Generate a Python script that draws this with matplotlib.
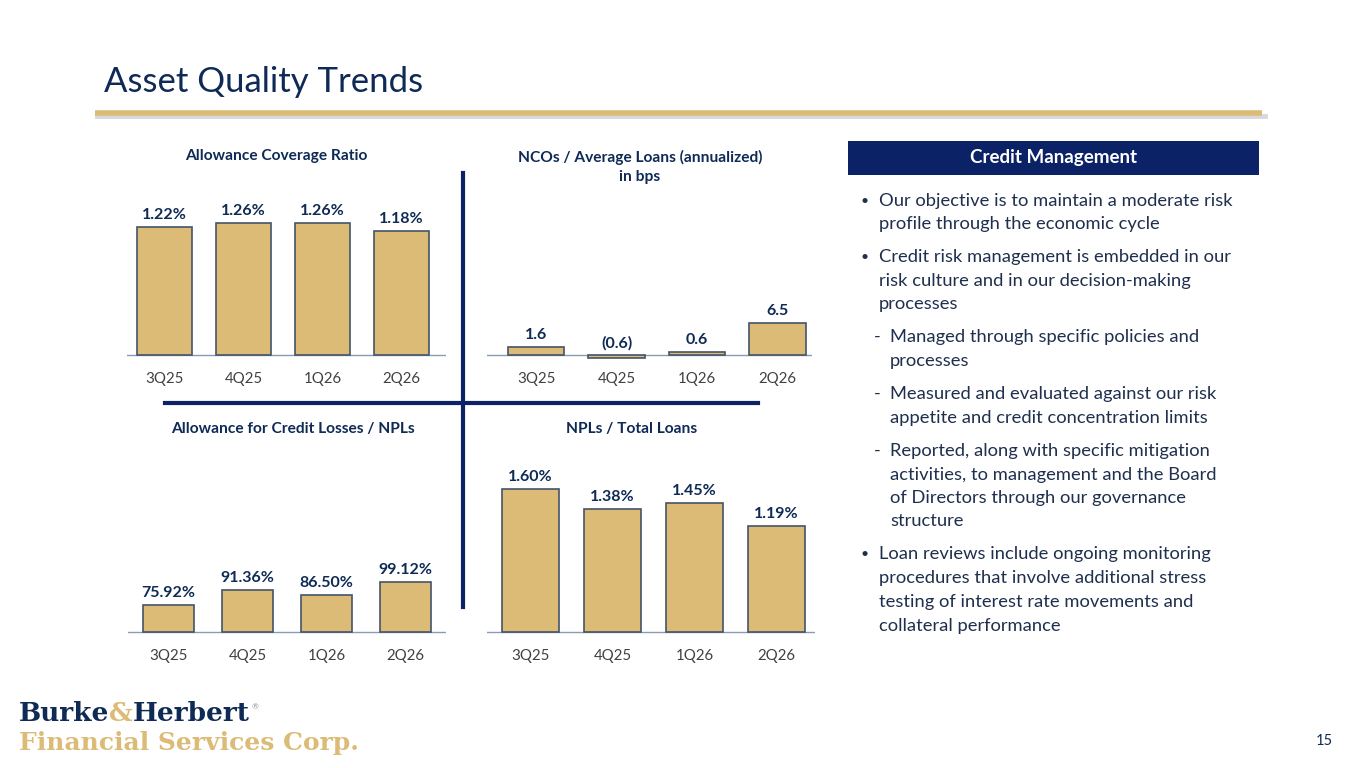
import matplotlib
matplotlib.use("Agg")
import matplotlib.pyplot as plt
from matplotlib.lines import Line2D
from matplotlib.patches import Rectangle

W, H = 1365, 768

quarters = ["3Q25", "4Q25", "1Q26", "2Q26"]
coverage_ratio = [1.22, 1.26, 1.26, 1.18]
nco_bps = [1.6, -0.6, 0.6, 6.5]
acl_to_npl = [75.92, 91.36, 86.50, 99.12]
npl_to_loans = [1.60, 1.38, 1.45, 1.19]

cov_labels = ["1.22%", "1.26%", "1.26%", "1.18%"]
nco_labels = ["1.6", "(0.6)", "0.6", "6.5"]
acl_labels = ["75.92%", "91.36%", "86.50%", "99.12%"]
npl_labels = ["1.60%", "1.38%", "1.45%", "1.19%"]

NAVY = "#0e2a55"
BOX_NAVY = "#0b2266"
GOLD = "#dcbb76"
EDGE = "#44546a"
TEXT = "#1f2f4d"
TICK = "#404040"
FONT = "Lato"

plt.rcParams["font.family"] = [FONT, "DejaVu Sans"]

fig = plt.figure(figsize=(W / 100, H / 100), dpi=100)
fig.patch.set_facecolor("white")


def fx(x):
    return x / W


def fy(y):
    return 1 - y / H


def bar_panel(left, right, top, base, bottom, c0, step, scale, ymin, values,
              labels, width, title, title_x, title_y):
    # axes placed in pixel terms so the panels line up like the slide
    ax = fig.add_axes([fx(left), fy(bottom), (right - left) / W, (bottom - top) / H])
    ax.set_xlim(-(c0 - left) / step, (right - c0) / step)
    ax.set_ylim(ymin - (bottom - base) / scale, ymin + (base - top) / scale)
    xs = range(len(values))
    bottoms = [ymin if v >= 0 else 0 for v in values]
    heights = [v - ymin if v >= 0 else v for v in values]
    ax.bar(xs, heights, bottom=bottoms, width=width, color=GOLD,
           edgecolor=EDGE, linewidth=1.2, zorder=2)
    ax.axhline(ymin, color="#8a9ab3", linewidth=1.0, zorder=1)
    for i, (v, lab) in enumerate(zip(values, labels)):
        ax.annotate(lab, (i, max(v, ymin)),
                    xytext=(0, 3.5), textcoords="offset points",
                    ha="center", va="bottom", fontsize=11.5,
                    fontweight="bold", color=NAVY)
    ax.set_xticks(list(xs))
    ax.set_xticklabels(quarters)
    ax.tick_params(axis="x", length=0, labelsize=10.8, colors=TICK, pad=5)
    ax.set_yticks([])
    for s in ax.spines.values():
        s.set_visible(False)
    ax.patch.set_alpha(0)
    fig.text(fx(title_x), fy(title_y), title, ha="center",
             va="center", fontsize=11.2, fontweight="bold", color=NAVY,
             linespacing=1.4)
    return ax


bar_panel(127, 446, 190, 355, 365, 164.5, 79, 105, 0, coverage_ratio,
          cov_labels, 0.70, "Allowance Coverage Ratio", 276, 156)
bar_panel(487, 812, 190, 355, 365, 536, 80.5, 5, 0, nco_bps,
          nco_labels, 0.70, "NCOs / Average Loans (annualized)\nin bps", 640, 167)
bar_panel(128, 446, 460, 632, 642, 168.5, 79, 1.0, 49, acl_to_npl,
          acl_labels, 0.65, "Allowance for Credit Losses / NPLs", 293, 429)
bar_panel(487, 815, 460, 632, 642, 530.5, 82, 89.3, 0, npl_to_loans,
          npl_labels, 0.70, "NPLs / Total Loans", 632, 429)

# slide title and gold rule
fig.text(fx(104), fy(82), "Asset Quality Trends", ha="left", va="center",
         fontsize=25, color=NAVY)
fig.add_artist(Line2D([fx(97), fx(1265)], [fy(116), fy(116)],
                      color="#c4c8d0", linewidth=3.5, alpha=0.7))
fig.add_artist(Line2D([fx(95), fx(1262)], [fy(113), fy(113)],
                      color=GOLD, linewidth=4, solid_capstyle="butt"))

# quadrant dividers
fig.add_artist(Line2D([fx(463), fx(463)], [fy(173), fy(607)],
                      color=BOX_NAVY, linewidth=3))
fig.add_artist(Line2D([fx(165), fx(758)], [fy(403), fy(403)],
                      color=BOX_NAVY, linewidth=3))

# right hand panel
fig.add_artist(Rectangle((fx(848), fy(175)), (1259 - 848) / W, 34 / H,
                         transform=fig.transFigure, facecolor=BOX_NAVY,
                         edgecolor="none"))
fig.text(fx(1053.5), fy(158), "Credit Management", ha="center", va="center",
         fontsize=13.5, fontweight="bold", color="white")

lines = [
    (201, "•", "Our objective is to maintain a moderate risk"),
    (224, "", "profile through the economic cycle"),
    (257, "•", "Credit risk management is embedded in our"),
    (281, "", "risk culture and in our decision-making"),
    (304, "", "processes"),
    (337, "-", "Managed through specific policies and"),
    (361, " ", "processes"),
    (394, "-", "Measured and evaluated against our risk"),
    (418, " ", "appetite and credit concentration limits"),
    (451, "-", "Reported, along with specific mitigation"),
    (475, " ", "activities, to management and the Board"),
    (498, " ", "of Directors through our governance"),
    (521, " ", "structure"),
    (554, "•", "Loan reviews include ongoing monitoring"),
    (578, "", "procedures that involve additional stress"),
    (602, "", "testing of interest rate movements and"),
    (626, "", "collateral performance"),
]
BODY = 13.2
for y, mark, txt in lines:
    if mark in ("-", " "):
        if mark == "-":
            fig.text(fx(874), fy(y), "-", ha="left", va="center",
                     fontsize=BODY, color=TEXT)
        fig.text(fx(890), fy(y), txt, ha="left", va="center",
                 fontsize=BODY, color=TEXT)
    else:
        if mark:
            fig.text(fx(861), fy(y), mark, ha="left", va="center",
                     fontsize=10, color=TEXT)
        fig.text(fx(879), fy(y), txt, ha="left", va="center",
                 fontsize=BODY, color=TEXT)

# logo
logo_kw = dict(fontweight="bold", family="DejaVu Serif",
               va="baseline", ha="left")
t1 = fig.text(fx(19), fy(721), "Burke", color=NAVY, fontsize=19, **logo_kw)
t2 = fig.text(0, 0, "&", color=GOLD, fontsize=19, **logo_kw)
t3 = fig.text(0, 0, "Herbert", color=NAVY, fontsize=19, **logo_kw)
fig.canvas.draw()
r = fig.canvas.get_renderer()
bb = t1.get_window_extent(r)
t2.set_position((bb.x1 / W, fy(721)))
bb = t2.get_window_extent(r)
t3.set_position((bb.x1 / W, fy(721)))
bb = t3.get_window_extent(r)
fig.text(bb.x1 / W + 0.001, fy(707), "®", color="#8a8f99", fontsize=6,
         va="center", ha="left")
fig.text(fx(19), fy(750), "Financial Services Corp.", color=GOLD,
         fontsize=18, **logo_kw)

fig.text(fx(1333), fy(741), "15", ha="right", va="center", fontsize=10.5,
         color=NAVY)

fig.savefig("out.png", dpi=100, facecolor="white")
